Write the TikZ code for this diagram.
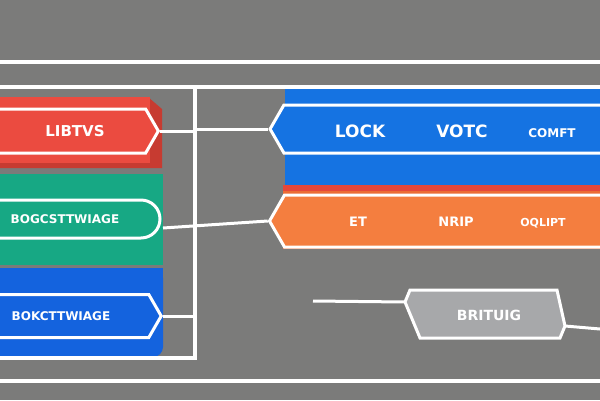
\documentclass[tikz,border=0pt]{standalone}
\usepackage{fontspec}
\setsansfont{DejaVu Sans}
\usepackage{tikz}
\usetikzlibrary{shapes.symbols}
\definecolor{bggray}{HTML}{7B7B7A}
\definecolor{redblk}{HTML}{EB4B40}
\definecolor{reddk}{HTML}{C73B31}
\definecolor{greenblk}{HTML}{17A884}
\definecolor{blueL}{HTML}{1463DE}
\definecolor{blueR}{HTML}{1573E2}
\definecolor{redstrip}{HTML}{E5473A}
\definecolor{orangeblk}{HTML}{F47E3F}
\definecolor{orangedk}{HTML}{EC6C34}
\definecolor{grayfill}{HTML}{A7A8AA}
\tikzset{
  frameline/.style={white, line width=3.5pt},
  wire/.style={white, line width=3pt},
  sigr/.style={signal, signal to=east, draw=white, line width=3pt,
               signal pointer angle=120, inner sep=0pt},
  sigl/.style={signal, signal to=west, draw=white, line width=3pt,
               signal pointer angle=120, inner sep=0pt},
  lbl/.style={text=white, font=\sffamily\bfseries, inner sep=0pt}
}
\begin{document}
\begin{tikzpicture}[x=1pt,y=-1pt]
  \fill[bggray] (0,0) rectangle (600,400);
  \useasboundingbox (0,0) rectangle (600,400);
  % colour blocks
  \fill[reddk] (0,97) -- (148,97) -- (162,109) -- (162,168) -- (0,168) -- cycle;
  \fill[redblk] (0,97) rectangle (150,163);
  \fill[greenblk] (0,174) rectangle (163,265);
  \fill[blueL, rounded corners=10pt] (-20,268) rectangle (163,357);
  \fill[blueL] (-20,268) rectangle (163,310);
  \fill[blueR] (285,88) rectangle (600,185);
  \fill[redstrip] (283,185) rectangle (600,191);
  \fill[orangedk] (283,191) rectangle (600,249);
  % frame
  \draw[frameline] (0,62) -- (600,62);
  \draw[frameline] (0,87) -- (600,87);
  \draw[frameline] (0,381) -- (600,381);
  \draw[frameline] (195,87) -- (195,358) -- (0,358);
  \coordinate (fv) at (195,0);
  % left nodes
  \node[sigr, fill=redblk, minimum width=172pt, minimum height=44pt] (libtvs) at (66,131) {};
  \node[lbl, font=\sffamily\bfseries\fontsize{15}{15}\selectfont] (libtvslbl) at (75,131) {LIBTVS};
  \node[draw=white, line width=3pt, fill=greenblk, rounded corners=19pt,
        minimum width=180pt, minimum height=38pt] (bogc) at (70,219) {};
  \node[lbl, font=\sffamily\bfseries\fontsize{12}{12}\selectfont] (bogclbl) at (65,219) {BOGCSTTWIAGE};
  \node[sigr, fill=blueL, minimum width=175pt, minimum height=43pt] (bokc) at (67.5,316) {};
  \node[lbl, font=\sffamily\bfseries\fontsize{12}{12}\selectfont] (bokclbl) at (61,316) {BOKCTTWIAGE};
  % right nodes
  \node[sigl, fill=blueR, minimum width=343pt, minimum height=48pt] (lockbar) at (448.5,129) {};
  \node[lbl, font=\sffamily\bfseries\fontsize{17}{17}\selectfont] (lock) at (360,131) {LOCK};
  \node[lbl, font=\sffamily\bfseries\fontsize{17}{17}\selectfont] (votc) at (462,131) {VOTC};
  \node[lbl, font=\sffamily\bfseries\fontsize{12}{12}\selectfont] (comft) at (552,133) {COMFT};
  \node[sigl, fill=orangeblk, minimum width=343pt, minimum height=52pt] (orbar) at (448.5,221) {};
  \node[lbl, font=\sffamily\bfseries\fontsize{13}{13}\selectfont] (et) at (358,222) {ET};
  \node[lbl, font=\sffamily\bfseries\fontsize{13}{13}\selectfont] (nrip) at (456,222) {NRIP};
  \node[lbl, font=\sffamily\bfseries\fontsize{11}{11}\selectfont] (oqlipt) at (543,223) {OQLIPT};
  % grey node
  \coordinate (gL) at (405,302);
  \coordinate (gR) at (565,326);
  \filldraw[fill=grayfill, draw=white, line width=3pt]
    (410,290) -- (557,290) -- (gR) -- (560,338) -- (420,338) -- (gL) -- cycle;
  \node[lbl, font=\sffamily\bfseries\fontsize{14}{14}\selectfont] (britu) at (489,315) {BRITUIG};
  % connectors
  \coordinate (gout) at (163,228);
  \coordinate (gin) at (313,301);
  \coordinate (gend) at (600,329);
  \draw[wire] (libtvs.east) -- (libtvs.east -| fv);
  \draw[wire] (lockbar.west) -- (lockbar.west -| fv);
  \draw[wire] (gout) -- (orbar.west);
  \draw[wire] (bokc.east) -- (bokc.east -| fv);
  \draw[wire] (gin) -- (gL);
  \draw[wire] (gR) -- (gend);
\end{tikzpicture}
\end{document}
